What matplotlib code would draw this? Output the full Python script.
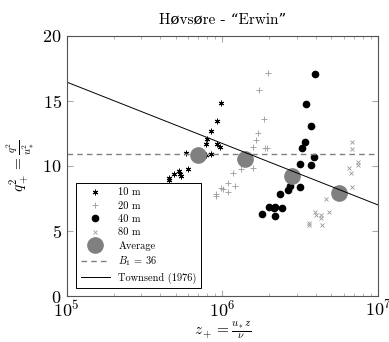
import matplotlib.pyplot as plt
import numpy as np

plt.rcParams['font.family'] = ['cmr10', 'DejaVu Serif']
plt.rcParams['mathtext.fontset'] = 'cm'
plt.rcParams['axes.unicode_minus'] = False
plt.rcParams['axes.formatter.use_mathtext'] = True

# log10(z+) and q+^2
x10 = [5.654, 5.654, 5.692, 5.724, 5.729, 5.735, 5.763, 5.780, 5.894, 5.902, 5.896,
       5.924, 5.928, 5.965, 5.967, 5.986, 5.988]
y10 = [9.10, 8.92, 9.38, 9.59, 9.41, 9.25, 10.97, 9.77, 11.69, 12.05, 10.85,
       12.67, 10.92, 13.49, 11.69, 11.49, 14.82]

x20 = [6.290, 6.235, 6.267, 6.226, 6.213, 6.196, 6.271, 6.288, 6.198, 6.121, 6.065,
       6.082, 6.033, 6.039, 5.992, 6.001, 5.956, 5.962]
y20 = [17.13, 15.85, 13.59, 12.51, 12.0, 11.49, 11.36, 11.36, 9.82, 9.74, 9.49,
       8.49, 8.67, 7.97, 8.33, 8.23, 7.72, 7.85]

x40 = [6.592, 6.535, 6.569, 6.528, 6.513, 6.590, 6.500, 6.571, 6.436, 6.500, 6.421,
       6.367, 6.297, 6.335, 6.329, 6.383, 6.340, 6.256]
y40 = [17.08, 14.74, 13.05, 11.82, 11.36, 10.72, 10.13, 10.10, 8.49, 8.36, 8.13,
       7.85, 6.87, 6.87, 6.79, 6.79, 6.15, 6.31]

x80 = [6.833, 6.833, 6.871, 6.869, 6.813, 6.826, 6.835, 6.668, 6.685, 6.595, 6.601,
       6.633, 6.635, 6.558, 6.558, 6.642]
y80 = [11.85, 11.31, 10.31, 10.10, 9.87, 9.49, 8.41, 7.44, 6.46, 6.46, 6.21,
       6.23, 6.0, 5.64, 5.46, 5.44]

x_avg = [5.842, 6.147, 6.447, 6.747]
y_avg = [10.85, 10.51, 9.23, 7.90]

B1 = 36
townsend_x = [5, 7]
townsend_y = [16.45, 7.0]

fig = plt.figure(figsize=(3.89, 3.42), dpi=100)
ax = fig.add_axes([0.1715, 0.1345, 0.8005, 0.7605])

p = lambda v: 10 ** np.array(v)
ax.plot(p(x10), y10, ls='none', marker=(6, 2, 0), ms=4, mew=0.7, color='black', label='10 m')
ax.plot(p(x20), y20, ls='none', marker='+', ms=5, mew=0.6, color='#999999', label='20 m')
ax.plot(p(x40), y40, ls='none', marker='o', ms=4.5, color='black', label='40 m')
ax.plot(p(x80), y80, ls='none', marker='x', ms=3.5, mew=0.6, color='#999999', label='80 m')
ax.plot(p(x_avg), y_avg, ls='none', marker='o', ms=11, color='#808080', label='Average')
ax.axhline(B1 ** (2 / 3), color='#808080', ls=(0, (4, 3)), lw=1.0, label='$B_1$ = 36')
ax.plot(p(townsend_x), townsend_y, color='black', lw=0.7, label='Townsend (1976)')

ax.set_xscale('log')
ax.set_xlim(1e5, 1e7)
ax.set_ylim(0, 20)
ax.set_yticks([0, 5, 10, 15, 20])
ax.tick_params(which='both', direction='in', top=True, right=True, labelsize=13)
ax.tick_params(axis='x', pad=2)
ax.tick_params(which='major', length=4, color='#aaaaaa')
ax.tick_params(which='minor', length=2.5, color='#aaaaaa')
for s in ax.spines.values():
    s.set_color('#555555')
    s.set_linewidth(0.8)

ax.set_title('Høvsøre - “Erwin”', fontsize=11, pad=9)
ax.set_xlabel(r'$z_+ = \frac{u_* z}{\nu}$', fontsize=11, labelpad=1)
ax.set_ylabel(r'$q_+^2 = \frac{q^2}{u_*^2}$', fontsize=11)

leg = ax.legend(loc='lower left', bbox_to_anchor=(0.03, 0.03), fontsize=7.5,
                fancybox=False, edgecolor='black', framealpha=1, borderaxespad=0,
                handlelength=2.8, labelspacing=0.36, borderpad=0.45)
leg.get_frame().set_linewidth(0.7)

fig.savefig('out.png', dpi=100)
